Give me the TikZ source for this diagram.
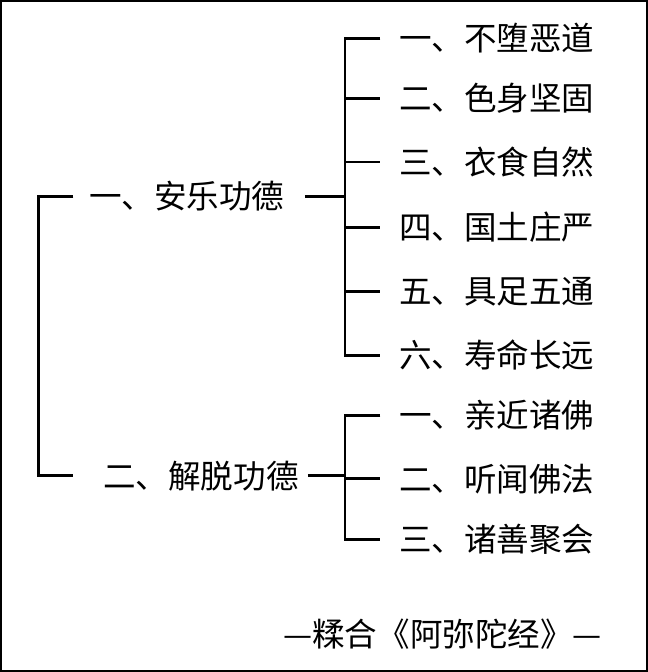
\documentclass[tikz,border=0pt]{standalone}
\usepackage{fontspec}
\newfontfamily\cjk{Noto Sans CJK SC}
\tikzset{item/.style={anchor=west, inner sep=0pt, font=\cjk\fontsize{9.2}{10}\selectfont},
  brace/.style={line width=0.8pt}}
\begin{document}
\begin{tikzpicture}[x=0.01cm, y=-0.01cm]
   \draw[line width=0.6pt] (3,3) rectangle (645,669);
   % first level
   \node[item] (a) at (90,197) {一、安乐功德};
   \node[item] (b) at (104,475) {二、解脱功德};
   \draw[brace] (75,197) -- (40,197) -- (40,475) -- (75,475);
   % second level
   \node[item] (a1) at (398,40) {一、不堕恶道};
   \node[item] (a2) at (398,100) {二、色身坚固};
   \node[item] (a3) at (398,163) {三、衣食自然};
   \node[item] (a4) at (398,228) {四、国土庄严};
   \node[item] (a5) at (398,292) {五、具足五通};
   \node[item] (a6) at (398,355) {六、寿命长远};
   \node[item] (b1) at (398,415) {一、亲近诸佛};
   \node[item] (b2) at (398,478) {二、听闻佛法};
   \node[item] (b3) at (398,538) {三、诸善聚会};
   \draw[brace] (305,197) -- (345,197);
   \draw[brace] (380,40) -- (345,40) -- (345,355) -- (380,355);
   \foreach \y in {100,163,228,292} \draw[brace] (345,\y) -- (380,\y);
   \draw[brace] (308,475) -- (345,475);
   \draw[brace] (380,415) -- (345,415) -- (345,538) -- (380,538);
   \draw[brace] (345,478) -- (380,478);
   \node[item, anchor=center] (src) at (442,632) {—糅合《阿弥陀经》—};
\end{tikzpicture}
\end{document}
